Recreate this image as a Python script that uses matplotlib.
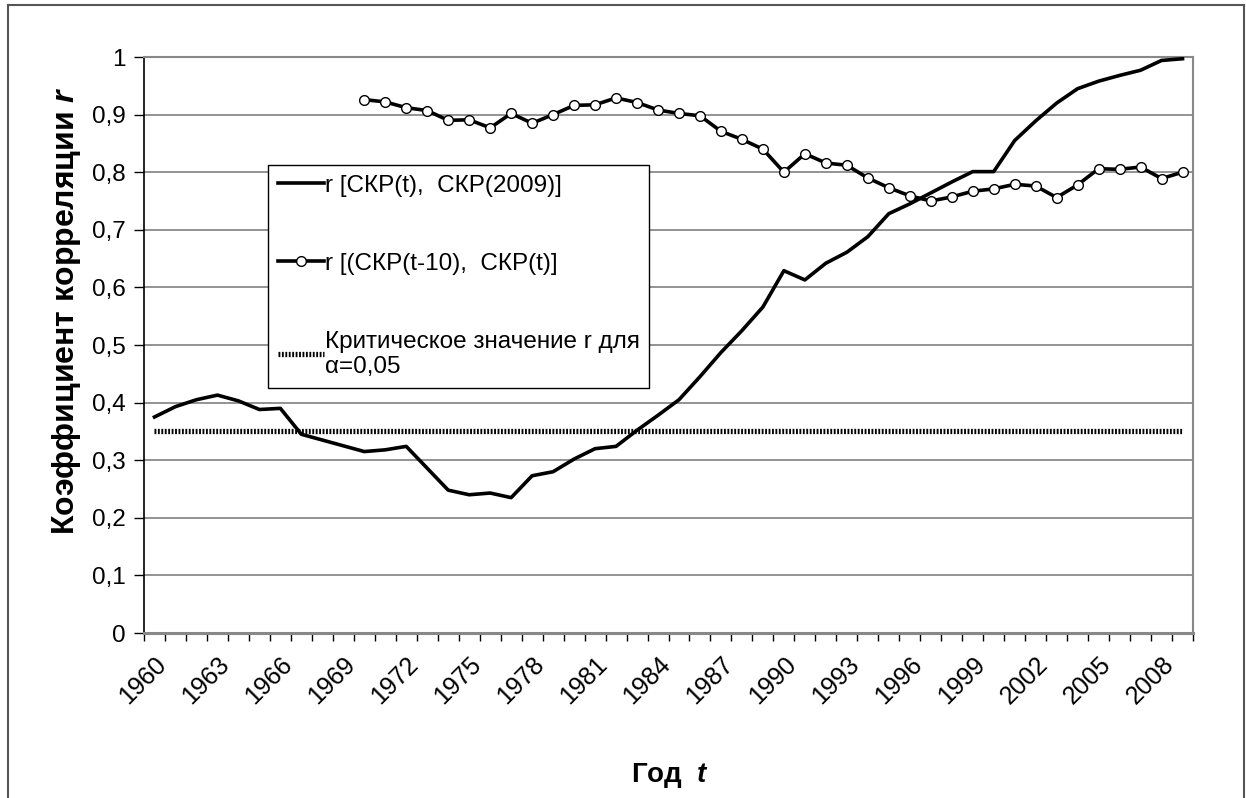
import numpy as np
import matplotlib
matplotlib.use("Agg")
import matplotlib.pyplot as plt
from matplotlib.lines import Line2D

plt.rcParams['font.family'] = ['Liberation Sans', 'DejaVu Sans']
plt.rcParams['mathtext.fontset'] = 'custom'
plt.rcParams['mathtext.it'] = 'Liberation Sans:italic:bold'
plt.rcParams['mathtext.rm'] = 'Liberation Sans'

# data
years = list(range(1960, 2010))
r_2009 = [0.375, 0.393, 0.405, 0.413, 0.403, 0.388, 0.390, 0.345, 0.335, 0.325,
          0.315, 0.318, 0.324, 0.286, 0.248, 0.240, 0.243, 0.235, 0.273, 0.280,
          0.302, 0.320, 0.324, 0.352, 0.378, 0.405, 0.445, 0.487, 0.525, 0.566,
          0.629, 0.613, 0.642, 0.661, 0.688, 0.728, 0.745, 0.764, 0.783, 0.801,
          0.801, 0.855, 0.889, 0.920, 0.945, 0.958, 0.968, 0.977, 0.994, 0.997]
years_lag = list(range(1970, 2010))
r_lag10 = [0.926, 0.922, 0.912, 0.907, 0.890, 0.891, 0.877, 0.902, 0.885, 0.900,
           0.916, 0.917, 0.929, 0.921, 0.908, 0.902, 0.898, 0.871, 0.857, 0.840,
           0.800, 0.832, 0.816, 0.812, 0.790, 0.773, 0.759, 0.750, 0.757, 0.767,
           0.771, 0.779, 0.776, 0.756, 0.778, 0.806, 0.805, 0.809, 0.789, 0.800]
r_crit = 0.35

labels = ["r [СКР(t),  СКР(2009)]",
          "r [(СКР(t-10),  СКР(t)]",
          "Критическое значение r для\nα=0,05"]

fig = plt.figure(figsize=(12.46, 7.98), dpi=100)
ax = fig.add_axes([144/1246, 1-633/798, 1049/1246, 576/798])

x = np.arange(len(years))
x_lag = np.array([years.index(y) for y in years_lag])

l1, = ax.plot(x, r_2009, color='black', lw=2.6, zorder=3)
l2, = ax.plot(x_lag, r_lag10, color='black', lw=2.6, marker='o', ms=7,
              mfc='white', mec='black', mew=1.0, zorder=4)
l3, = ax.plot(x, [r_crit]*len(x), color='black', lw=3.8,
              ls=(0, (0.35, 0.3)), zorder=2)

ax.set_xlim(-0.5, len(years)-0.5)
ax.set_ylim(0, 1)

yt = np.arange(0, 1.01, 0.1)
ax.set_yticks(yt)
ax.set_yticklabels(['0' if v == 0 else ('1' if abs(v-1) < 1e-9 else ('%.1f' % v).replace('.', ','))
                    for v in yt], fontsize=17.5)
ax.yaxis.grid(True, color='#808080', lw=1.2)
ax.set_axisbelow(True)

major = [i for i, y in enumerate(years) if (y-1960) % 3 == 0]
ax.set_xticks(major)
ax.set_xticklabels([str(years[i]) for i in major], rotation=45, ha='right',
                   rotation_mode='anchor', fontsize=18)
ax.set_xticks(np.arange(-0.5, len(years)), minor=True)
ax.tick_params(axis='x', which='major', length=0, pad=14)
ax.tick_params(axis='x', which='minor', length=6, width=1, color='black', direction='out')
ax.tick_params(axis='y', length=7, width=1, color='black', direction='out', pad=6)

ax.spines['left'].set_color('black')
ax.spines['left'].set_linewidth(1.2)
ax.spines['bottom'].set_color('#888888')
ax.spines['bottom'].set_linewidth(2.2)
ax.spines['right'].set_color('#888888')
ax.spines['right'].set_linewidth(1.5)
ax.spines['top'].set_color('#888888')
ax.spines['top'].set_linewidth(1.5)

ax.set_ylabel('Коэффициент корреляции $r$', fontsize=23, fontweight='bold')
ax.yaxis.set_label_coords(-0.058, 0.56)
ax.set_xlabel('Год  $t$', fontsize=20, fontweight='bold')
ax.xaxis.set_label_coords(0.501, -0.222)

leg = ax.legend([l1, l2, l3], labels, loc='upper left',
                bbox_to_anchor=(0.118, 0.8125), fontsize=17.5, frameon=True,
                fancybox=False, edgecolor='black', framealpha=1,
                handlelength=1.9, handletextpad=0.05, labelspacing=2.3,
                borderpad=0.4, borderaxespad=0)
leg.get_frame().set_linewidth(1.0)

# outer chart frame
fig.add_artist(Line2D([8/1246, 8/1246], [0, 1-5/798], transform=fig.transFigure, color='#555555', lw=1.5))
fig.add_artist(Line2D([8/1246, 1244/1246], [1-5/798, 1-5/798], transform=fig.transFigure, color='#555555', lw=1.5))
fig.add_artist(Line2D([1244/1246, 1244/1246], [0, 1-5/798], transform=fig.transFigure, color='#555555', lw=1.5))

fig.savefig('out.png', dpi=100, facecolor='white')
